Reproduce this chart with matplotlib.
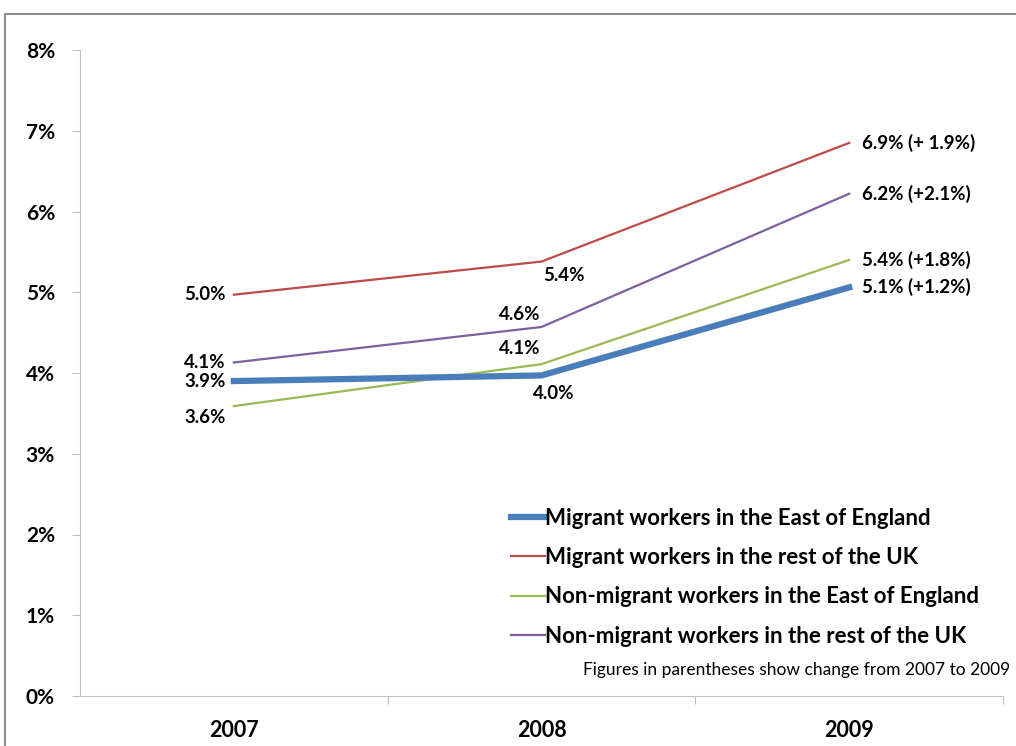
import matplotlib
matplotlib.use("Agg")
import matplotlib.pyplot as plt
from matplotlib.patches import Rectangle

years = ["2007", "2008", "2009"]
series_names = [
    "Migrant workers in the East of England",
    "Migrant workers in the rest of the UK",
    "Non-migrant workers in the East of England",
    "Non-migrant workers in the rest of the UK",
]
migrant_east = [3.90, 3.97, 5.06]
migrant_rest = [4.97, 5.38, 6.85]
nonmigrant_east = [3.59, 4.11, 5.40]
nonmigrant_rest = [4.13, 4.57, 6.22]
labels_migrant_east = ["3.9%", "4.0%", "5.1% (+1.2%)"]
labels_migrant_rest = ["5.0%", "5.4%", "6.9% (+ 1.9%)"]
labels_nonmigrant_east = ["3.6%", "4.1%", "5.4% (+1.8%)"]
labels_nonmigrant_rest = ["4.1%", "4.6%", "6.2% (+2.1%)"]
y_ticks = [0, 1, 2, 3, 4, 5, 6, 7, 8]
note = "Figures in parentheses show change from 2007 to 2009"

plt.rcParams["font.family"] = ["Lato", "DejaVu Sans"]

fig = plt.figure(figsize=(10.16, 7.46), dpi=100)
fig.patches.append(Rectangle((5 / 1016, -0.05), 1.1, 1 - 14 / 746 + 0.05,
                             transform=fig.transFigure, fill=False,
                             edgecolor="#8c8c8c", linewidth=1.5))
ax = fig.add_axes([80 / 1016, 50 / 746, 923 / 1016, 646 / 746])

x = range(len(years))
blue, red, green, purple = "#4A7EBB", "#BE4B48", "#98B954", "#7D60A0"
ax.plot(x, migrant_east, color=blue, lw=4.5, label=series_names[0], zorder=3)
ax.plot(x, migrant_rest, color=red, lw=1.6, label=series_names[1])
ax.plot(x, nonmigrant_east, color=green, lw=1.6, label=series_names[2])
ax.plot(x, nonmigrant_rest, color=purple, lw=1.6, label=series_names[3])

ax.set_xlim(-0.5, 2.5)
ax.set_ylim(0, 8)
ax.set_yticks(y_ticks)
ax.set_yticklabels([f"{t}%" for t in y_ticks], fontsize=15, fontweight="bold")
ax.set_xticks([0.5, 1.5, 2.5])
ax.set_xticklabels([])
ax.set_xticks(list(x), minor=True)
ax.set_xticklabels(years, minor=True, fontsize=15.5, fontweight="bold")
ax.tick_params(axis="x", which="minor", length=0, pad=17)
ax.tick_params(axis="x", which="major", length=6, color="#BFBFBF")
ax.tick_params(axis="y", length=6, color="#BFBFBF", pad=12)
for s in ["top", "right"]:
    ax.spines[s].set_visible(False)
for s in ["left", "bottom"]:
    ax.spines[s].set_color("#BFBFBF")

lab_kw = dict(fontsize=13.5, fontweight="bold", textcoords="offset points")
all_vals = [migrant_east, migrant_rest, nonmigrant_east, nonmigrant_rest]
all_labs = [labels_migrant_east, labels_migrant_rest, labels_nonmigrant_east, labels_nonmigrant_rest]
# offsets (points) for the 2007 and 2008 labels
off_2007 = [(-6, 0), (-6, 0), (-6, -8), (-6, 0)]
off_2008 = [(9, -13), (16, -10), (-16, 11), (-16, 9)]
for vals, labs, o7, o8 in zip(all_vals, all_labs, off_2007, off_2008):
    ax.annotate(labs[0], (0, vals[0]), xytext=o7, ha="right", va="center", **lab_kw)
    ax.annotate(labs[1], (1, vals[1]), xytext=o8, ha="center", va="center", **lab_kw)
    ax.annotate(labs[2], (2, vals[2]), xytext=(9, 0), ha="left", va="center", **lab_kw)

leg = ax.legend(loc="upper left", bbox_to_anchor=(422 / 923, 197 / 646), frameon=False,
                handlelength=1.55, handletextpad=0.0, labelspacing=0.82,
                prop={"size": 16, "weight": "bold"}, borderaxespad=0)
ax.text(1010 / 1016, (746 - 670) / 746, note, transform=fig.transFigure,
        ha="right", va="center", fontsize=12.5)

fig.savefig("out.png", dpi=100)
